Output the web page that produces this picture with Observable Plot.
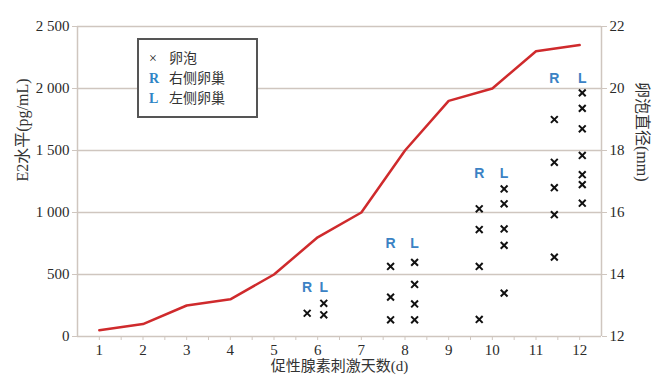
<!DOCTYPE html>
<html><head><meta charset="utf-8">
<script src="https://cdn.jsdelivr.net/npm/d3@7"></script>
<script src="https://cdn.jsdelivr.net/npm/@observablehq/plot@0.6"></script>
<style>
body{margin:0;background:#fff;}
#wrap{position:relative;width:664px;height:383px;}
#legend{position:absolute;left:137px;top:38px;width:117px;height:76px;border:2px solid #555;background:#fff;
font-family:"Liberation Serif","Times New Roman","Noto Sans CJK SC",serif;font-size:14px;color:#333;box-sizing:content-box;}
#legend div{position:absolute;left:10px;height:20px;line-height:20px;white-space:nowrap;}
#legend span.k{display:inline-block;width:20px;font-weight:bold;}
</style>
</head><body><div id="wrap"></div>
<script>
// E2 level (pg/mL) by stimulation day
const days = [1,2,3,4,5,6,7,8,9,10,11,12];
const e2 = [50,100,250,300,500,800,1000,1500,1900,2000,2300,2350];
// follicle diameters (mm), right and left ovary, measured on these days
const follicleDays = [6,8,10,12];
const rightX = [5.76,7.67,9.70,11.42];
const leftX = [6.14,8.22,10.27,12.06];
const rightMm = [[12.75],[14.26,13.27,12.54],[16.12,15.45,14.26,12.55],[19.0,17.62,16.80,15.93,14.56]];
const leftMm = [[13.07,12.70],[14.39,13.68,13.05,12.54],[16.76,16.28,15.47,14.94,13.40],[19.86,19.36,18.70,17.84,17.22,16.90,16.30]];
const labelMm = [13.59,15.0,17.27,20.31];
const leftTicks = [0,500,1000,1500,2000,2500];
const rightTicks = [12,14,16,18,20,22];

const toE2 = mm => (mm - 12) * 250;
const fmt = d3.formatLocale({thousands:" ", grouping:[3], decimal:".", currency:["",""]}).format(",");

const lineData = days.map((d,i)=>({day:d, e2:e2[i]}));
const pts = [];
follicleDays.forEach((d,i)=>{
  rightMm[i].forEach(v=>pts.push({x:rightX[i], mm:v}));
  leftMm[i].forEach(v=>pts.push({x:leftX[i], mm:v}));
});
const labels = [];
follicleDays.forEach((d,i)=>{
  labels.push({x:rightX[i], mm:labelMm[i], t:"R"});
  labels.push({x:leftX[i], mm:labelMm[i], t:"L"});
});

const gray = "#cfc6bf";
const serif = '"Liberation Serif","Times New Roman","Noto Sans CJK SC",serif';
const chart = Plot.plot({
  width:664, height:383, marginLeft:77, marginRight:63, marginTop:26, marginBottom:47,
  x:{domain:[0.5,12.5]},
  y:{domain:[0,2500]},
  style:{fontFamily:serif, fontSize:"15px", color:"#2a2a2a", background:"#fff"},
  marks:[
    Plot.gridY([500,1000,1500,2000,2500], {stroke:gray, strokeOpacity:1, strokeWidth:1.5}),
    Plot.ruleX([0.5,12.5], {stroke:gray, strokeWidth:1.5}),
    Plot.ruleY([0], {stroke:gray, strokeWidth:1.5}),
    Plot.axisY(leftTicks, {tickFormat:fmt, tickSize:5, tickPadding:3, stroke:gray, label:null, fontFamily:serif}),
    Plot.axisY(rightTicks.map(toE2), {anchor:"right", tickFormat:d=>d/250+12, tickSize:5, tickPadding:3, stroke:gray, label:null, fontFamily:serif}),
    Plot.axisX(d3.range(1,12.5,0.5), {tickFormat:d=>Number.isInteger(d)?d:"", tickSize:4, tickPadding:4, stroke:gray, label:null, fontFamily:serif}),
    Plot.line(lineData, {x:"day", y:"e2", stroke:"#cf2a2c", strokeWidth:2.5}),
    Plot.dot(pts, {x:"x", y:d=>toE2(d.mm), symbol:"times", r:3.2, stroke:"#111", strokeWidth:2}),
    Plot.text(labels, {x:"x", y:d=>toE2(d.mm), text:"t", fill:"#3b82c4", fontWeight:"bold", fontSize:14, fontFamily:"'Liberation Sans','DejaVu Sans',sans-serif"}),
    Plot.text(["E2水平(pg/mL)"], {frameAnchor:"left", dx:-55, rotate:-90, fontSize:16, fill:"#333", fontFamily:serif}),
    Plot.text(["卵泡直径(mm)"], {frameAnchor:"right", dx:41, rotate:90, fontSize:16, fill:"#333", fontFamily:serif}),
    Plot.text(["促性腺素刺激天数(d)"], {frameAnchor:"bottom", dy:30, lineAnchor:"middle", fontSize:15, fill:"#333", fontFamily:serif})
  ]
});
const wrap = document.getElementById("wrap");
wrap.appendChild(chart);
const lg = document.createElement("div");
lg.id = "legend";
lg.innerHTML = `<div style="top:9px"><span class="k" style="font-weight:normal;color:#222">×</span>卵泡</div>
<div style="top:29px"><span class="k" style="color:#2f86c6">R</span>右侧卵巢</div>
<div style="top:49px"><span class="k" style="color:#2f86c6">L</span>左侧卵巢</div>`;
wrap.appendChild(lg);
</script>
</body></html>
